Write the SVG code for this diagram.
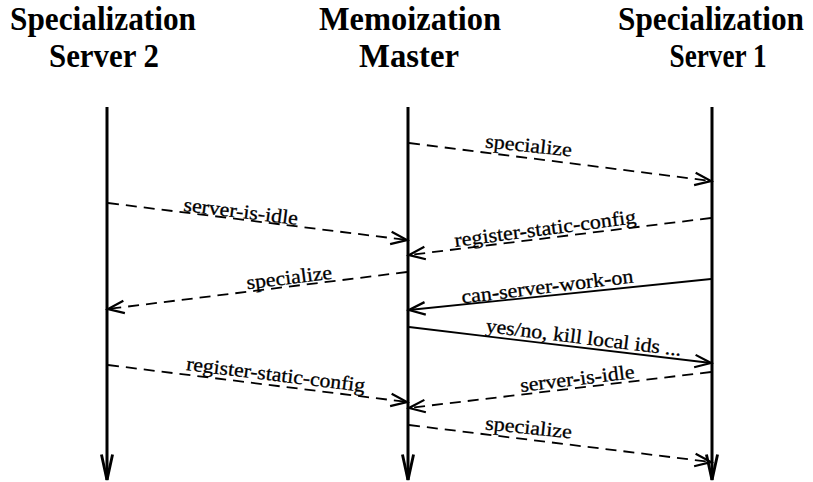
<svg xmlns="http://www.w3.org/2000/svg" width="813" height="482" viewBox="0 0 813 482">
<style>
.title{font-family:"Liberation Serif","DejaVu Serif",serif;font-weight:bold;font-size:33px;fill:#000;text-anchor:middle}
.lbl{font-family:"Liberation Serif","DejaVu Serif",serif;font-size:20px;fill:#000;stroke:#000;stroke-width:0.3;text-anchor:middle}
.life{stroke:#000;stroke-width:3;fill:none;marker-end:url(#lhead)}
.msg{stroke:#000;stroke-width:1.8;fill:none;marker-end:url(#mhead)}
.dash{stroke-dasharray:11 7}
</style>
<defs>
<marker id="mhead" markerUnits="userSpaceOnUse" markerWidth="20" markerHeight="20" refX="0" refY="0" viewBox="-14 -8 16 16" orient="auto" overflow="visible">
<path d="M-13,-5 L0,0 L-13,5" fill="none" stroke="#000" stroke-width="1.8"/>
</marker>
<marker id="lhead" markerUnits="userSpaceOnUse" markerWidth="30" markerHeight="30" refX="0" refY="0" viewBox="-25 -8 27 16" orient="auto" overflow="visible">
<path d="M-23,-5 L0,0 L-23,5" fill="none" stroke="#000" stroke-width="2.6"/>
</marker>
</defs>
<g id="server2">
<text class="title" x="103" y="30" textLength="186" lengthAdjust="spacingAndGlyphs">Specialization</text>
<text class="title" x="104" y="67" textLength="110" lengthAdjust="spacingAndGlyphs">Server 2</text>
<line class="life" x1="107" y1="107" x2="107" y2="480"/>
</g>
<g id="master">
<text class="title" x="410" y="30" textLength="182" lengthAdjust="spacingAndGlyphs">Memoization</text>
<text class="title" x="409" y="67" textLength="100" lengthAdjust="spacingAndGlyphs">Master</text>
<line class="life" x1="408" y1="107" x2="408" y2="480"/>
</g>
<g id="server1">
<text class="title" x="711" y="30" textLength="186" lengthAdjust="spacingAndGlyphs">Specialization</text>
<text class="title" x="718" y="67" textLength="97" lengthAdjust="spacingAndGlyphs">Server 1</text>
<line class="life" x1="712" y1="107" x2="712" y2="480"/>
</g>
<g id="connectors">
<line class="msg dash" x1="409" y1="143" x2="711" y2="181"/>
<text class="lbl" transform="translate(528,152) rotate(6)" textLength="87" lengthAdjust="spacingAndGlyphs">specialize</text>

<line class="msg dash" x1="108" y1="203" x2="407" y2="240"/>
<text class="lbl" transform="translate(240,218) rotate(7)" textLength="115" lengthAdjust="spacingAndGlyphs">server-is-idle</text>

<line class="msg dash" x1="711" y1="218" x2="409" y2="255"/>
<text class="lbl" transform="translate(546,235) rotate(-7.5)" textLength="183" lengthAdjust="spacingAndGlyphs">register-static-config</text>

<line class="msg dash" x1="407" y1="272" x2="108" y2="309"/>
<text class="lbl" transform="translate(290,284) rotate(-7)" textLength="86" lengthAdjust="spacingAndGlyphs">specialize</text>

<line class="msg" x1="711" y1="279" x2="409" y2="310"/>
<text class="lbl" transform="translate(548,293) rotate(-7)" textLength="173" lengthAdjust="spacingAndGlyphs">can-server-work-on</text>

<line class="msg" x1="409" y1="327" x2="711" y2="363"/>
<text class="lbl" transform="translate(583,344) rotate(7)" textLength="197" lengthAdjust="spacingAndGlyphs">yes/no, kill local ids ...</text>

<line class="msg dash" x1="108" y1="365" x2="407" y2="402"/>
<text class="lbl" transform="translate(275,381) rotate(7)" textLength="180" lengthAdjust="spacingAndGlyphs">register-static-config</text>

<line class="msg dash" x1="711" y1="372" x2="409" y2="408"/>
<text class="lbl" transform="translate(578,385) rotate(-7)" textLength="115" lengthAdjust="spacingAndGlyphs">server-is-idle</text>

<line class="msg dash" x1="409" y1="425" x2="711" y2="462"/>
<text class="lbl" transform="translate(528,434) rotate(6)" textLength="87" lengthAdjust="spacingAndGlyphs">specialize</text>
</g>
</svg>
